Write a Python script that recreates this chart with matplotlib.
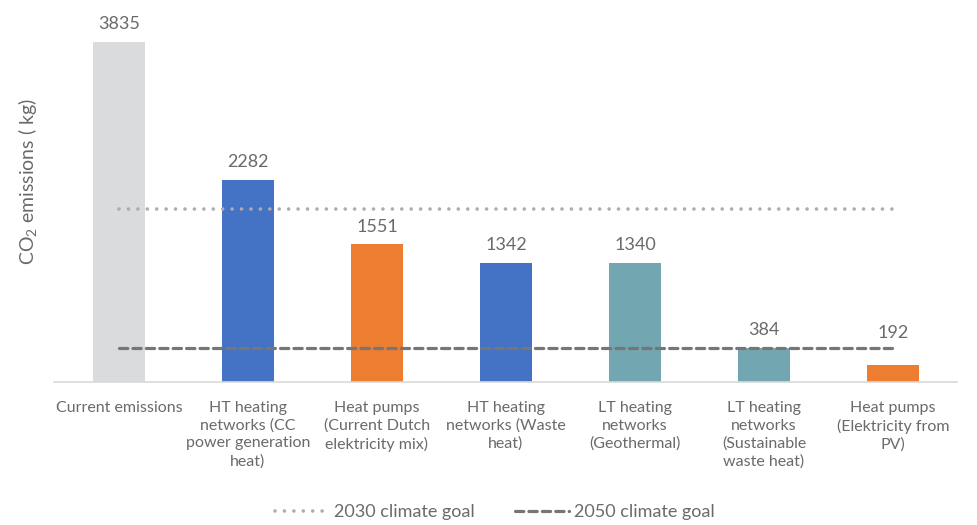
import matplotlib.pyplot as plt
import numpy as np

# Data
categories = ["Current emissions",
              "HT heating\nnetworks (CC\npower generation\nheat)",
              "Heat pumps\n(Current Dutch\nelektricity mix)",
              "HT heating\nnetworks (Waste\nheat)",
              "LT heating\nnetworks\n(Geothermal)",
              "LT heating\nnetworks\n(Sustainable\nwaste heat)",
              "Heat pumps\n(Elektricity from\nPV)"]
emissions = [3835, 2282, 1551, 1342, 1340, 384, 192]
goal_2030 = [1950] * 7
goal_2050 = [384] * 7

bar_colors = ["#DADBDD", "#4472C4", "#ED7D31", "#4472C4", "#72A6B0", "#72A6B0", "#ED7D31"]
TEXT = "#6A6A6A"
FONT = "Lato"

plt.rcParams['font.family'] = [FONT, 'DejaVu Sans']
plt.rcParams['mathtext.fontset'] = 'custom'
plt.rcParams['mathtext.rm'] = FONT

fig = plt.figure(figsize=(9.78, 5.25), dpi=100)
ax = fig.add_axes([0.0557, 0.2724, 0.9233, 0.676])

x = np.arange(len(categories))
bars = ax.bar(x, emissions, width=0.4, color=bar_colors, zorder=2)

# label above the last bar is lifted clear of the 2050 line
offsets = [7, 7, 7, 7, 7, 7, 17]
for xi, v, off in zip(x, emissions, offsets):
    ax.annotate(str(v), (xi, v), xytext=(0, off), textcoords="offset points",
                ha="center", va="bottom", fontsize=13, color=TEXT)

l1, = ax.plot(x, goal_2030, color="#ADADAD", linewidth=2.6,
              linestyle=(0, (0.01, 2.6)), dash_capstyle="round", zorder=3,
              label="2030 climate goal")
l2, = ax.plot(x, goal_2050, color="#767676", linewidth=2.3,
              linestyle=(0, (2.6, 1.6)), dash_capstyle="round", zorder=3,
              label="2050 climate goal")

ax.set_xlim(-0.5, len(categories) - 0.5)
ax.set_ylim(0, 4000)
ax.set_xticks(x)
ax.set_xticklabels(categories, fontsize=11.5, color=TEXT, linespacing=1.3, va="top")
ax.tick_params(axis="x", length=0, pad=14)
ax.set_yticks([])

for s in ["top", "right", "left"]:
    ax.spines[s].set_visible(False)
ax.spines["bottom"].set_color("#D9D9D9")
ax.spines["bottom"].set_linewidth(1.2)

ax.set_ylabel("CO$_\\mathrm{2}$ emissions ( kg)", fontsize=14, color=TEXT)
ax.yaxis.set_label_coords(-0.016, 0.566)

fig.legend(handles=[l1, l2], loc="center", bbox_to_anchor=(0.506, 0.024),
           ncol=2, frameon=False, fontsize=13, labelcolor=TEXT,
           handlelength=3.0, handletextpad=0.3, columnspacing=2.2)

plt.savefig("out.png", dpi=100)
plt.close()
